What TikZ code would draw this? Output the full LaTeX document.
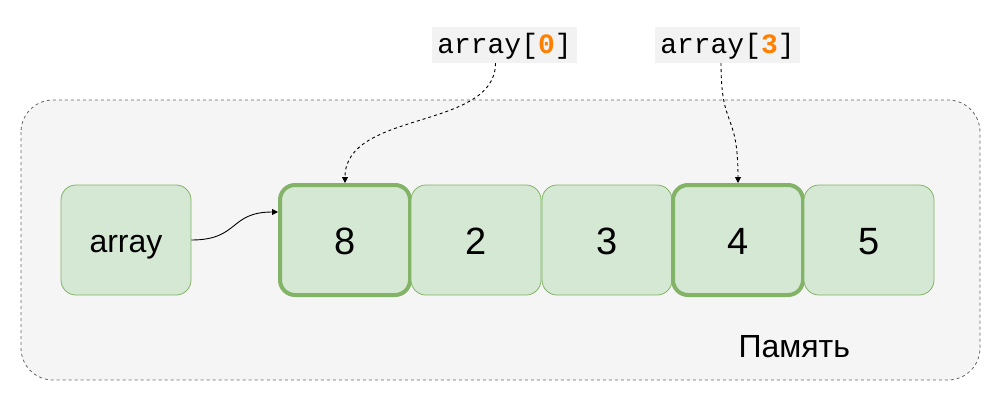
\documentclass[tikz,border=0pt]{standalone}
\usepackage{fontspec}
\setmainfont{Liberation Sans}
\newfontfamily\codefont{Liberation Mono}
\usetikzlibrary{arrows.meta,calc}
\definecolor{cellfill}{HTML}{D5E8D4}
\definecolor{celldraw}{HTML}{82B366}
\definecolor{memfill}{HTML}{F5F5F5}
\definecolor{memdraw}{HTML}{666666}
\definecolor{codebg}{HTML}{F2F2F2}
\definecolor{idxcol}{HTML}{FF8000}
\tikzset{
  cell/.style={draw=celldraw,fill=cellfill,rounded corners=15pt,line width=0.8pt,
    minimum width=130pt,minimum height=110pt,inner sep=0pt,
    font=\fontsize{38}{44}\selectfont,text height=28pt,text depth=0pt},
  hot/.style={cell,line width=4pt},
  codelbl/.style={fill=codebg,minimum width=145pt,minimum height=36pt,inner sep=0pt,
    font=\codefont\fontsize{28}{32}\selectfont,text height=22pt,text depth=6pt},
  ptr/.style={-{Triangle[length=6pt,width=6pt]},line width=0.9pt,black},
}
\begin{document}
\begin{tikzpicture}[x=1pt,y=-1pt]
\useasboundingbox (0,0) rectangle (1002,402);
\draw[dashed,draw=memdraw,fill=memfill,rounded corners=32pt,line width=0.8pt] (21,100) rectangle (980,380);
\node[anchor=base west,font=\fontsize{32}{38}\selectfont] (memlbl) at (735,357) {Память};

\node[cell,font=\fontsize{32}{38}\selectfont,text height=24pt] (arr) at (126,240) {array};
\node[hot] (c0) at (345,240) {8};
\node[cell] (c1) at (476,240) {2};
\node[cell] (c2) at (607,240) {3};
\node[hot] (c3) at (738,240) {4};
\node[cell] (c4) at (869,240) {5};

\node[codelbl] (lbl0) at (504.5,45) {array[{\color{idxcol}\bfseries 0}]};
\node[codelbl] (lbl3) at (727.5,45) {array[{\color{idxcol}\bfseries 3}]};

% pointers
\draw[ptr] (arr.east) .. controls +(48,0) and +(-49,0) .. ($(c0.west)+(0,-28)$);
\draw[ptr,dashed] ($(lbl0.south)+(-9,0)$) .. controls +(0,67) and +(0,-73) .. (c0.north);
\draw[ptr,dashed] ($(lbl3.south)+(-6.5,0)$) .. controls +(0,67) and +(0,-73) .. (c3.north);
\end{tikzpicture}
\end{document}
